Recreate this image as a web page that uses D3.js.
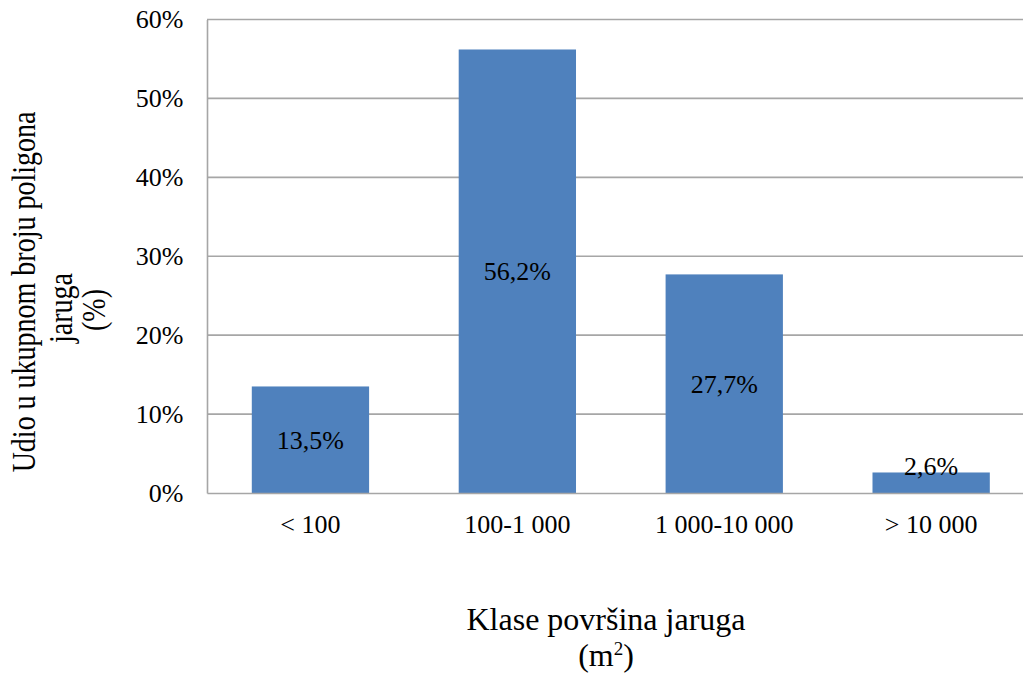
<!DOCTYPE html>
<html><head><meta charset="utf-8">
<script src="https://cdn.jsdelivr.net/npm/d3@7/dist/d3.min.js"></script>
<style>body{margin:0;background:#fff}svg{display:block}text{font-family:"Liberation Serif","Times New Roman",serif;fill:#000}</style>
</head><body><svg id="c" width="1023" height="675"></svg>
<script>
const categories = ["< 100", "100-1 000", "1 000-10 000", "> 10 000"];
const values = [13.5, 56.2, 27.7, 2.6];
const labels = ["13,5%", "56,2%", "27,7%", "2,6%"];
const yTicks = [0, 10, 20, 30, 40, 50, 60];

(function () {
const FONT = "Liberation Serif, Times New Roman, serif";
const svg = d3.select("#c");
const mLeft = 207, mTop = 19.5, mBottom = 493, mRight = 1034.6;
const x = d3.scaleBand().domain(categories).range([mLeft, mRight]).paddingInner(0.433).paddingOuter(0.2165);
const y = d3.scaleLinear().domain([0, 60]).range([mBottom, mTop]);

// gridlines
svg.append("g").selectAll("line").data(yTicks.filter(d => d > 0)).join("line")
  .attr("x1", mLeft).attr("x2", mRight).attr("y1", d => y(d)).attr("y2", d => y(d))
  .attr("stroke", "#a6a6a6").attr("stroke-width", 1.6);

// y axis
const ya = svg.append("g").attr("transform", `translate(${mLeft},0)`)
  .call(d3.axisLeft(y).tickValues(yTicks).tickSize(0).tickPadding(23.5).tickFormat(d => d + "%"));
ya.attr("font-family", FONT).attr("font-size", 26);
ya.select(".domain").attr("stroke", "#a6a6a6").attr("stroke-width", 1.6);
ya.selectAll("text").attr("font-size", 26).attr("font-family", FONT).attr("fill", "#000");

// bars
svg.append("g").selectAll("rect").data(values).join("rect")
  .attr("x", (d, i) => x(categories[i])).attr("width", x.bandwidth())
  .attr("y", d => y(d)).attr("height", d => y(0) - y(d)).attr("fill", "#4F81BD");

// x axis
const xa = svg.append("g").attr("transform", `translate(0,${mBottom})`)
  .call(d3.axisBottom(x).tickSize(0).tickPadding(21.5));
xa.attr("font-family", FONT).attr("font-size", 26);
xa.select(".domain").attr("stroke", "#a6a6a6").attr("stroke-width", 1.6);
xa.selectAll("text").attr("font-size", 26).attr("font-family", FONT).attr("fill", "#000");

// data labels
svg.append("g").selectAll("text").data(values).join("text")
  .attr("x", (d, i) => x(categories[i]) + x.bandwidth() / 2)
  .attr("y", d => Math.min((y(d) + y(0)) / 2, y(0) - 27))
  .attr("dy", "0.35em").attr("text-anchor", "middle").attr("font-size", 26)
  .attr("font-family", FONT)
  .text((d, i) => labels[i]);

// y title (three lines, rotated)
const yLines = [
  { t: "Udio u ukupnom broju poligona", bx: 35, cy: 292 },
  { t: "jaruga", bx: 72, cy: 308 },
  { t: "(%)", bx: 105, cy: 310 }
];
svg.append("g").selectAll("text").data(yLines).join("text")
  .attr("transform", d => `translate(${d.bx},${d.cy}) scale(1.18,1) rotate(-90)`)
  .attr("text-anchor", "middle").attr("font-size", 28).attr("font-family", FONT)
  .text(d => d.t);

// x title
svg.append("text").attr("x", 606).attr("y", 630).attr("text-anchor", "middle").attr("font-size", 32)
  .attr("font-family", FONT).text("Klase površina jaruga");
const xt2 = svg.append("text").attr("x", 606).attr("y", 666).attr("text-anchor", "middle").attr("font-size", 32)
  .attr("font-family", FONT);
xt2.append("tspan").text("(m");
xt2.append("tspan").attr("font-size", 19).attr("dy", -11).text("2");
xt2.append("tspan").attr("dy", 11).text(")");
})();
</script></body></html>
